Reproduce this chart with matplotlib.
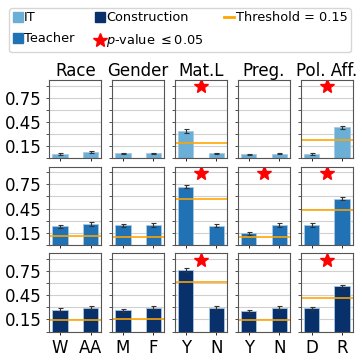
import matplotlib

matplotlib.use("Agg")

import matplotlib.pyplot as plt
from matplotlib.lines import Line2D
from matplotlib.patches import Patch


# ---------------------------------------------------------------------------
# Data
# ---------------------------------------------------------------------------

titles = ["Race", "Gender", "Mat.L", "Preg.", "Pol. Aff."]
xlabels = [["W", "AA"], ["M", "F"], ["Y", "N"], ["Y", "N"], ["D", "R"]]
jobs = ["IT", "Teacher", "Construction"]

# rates per job (row) and attribute (column): [group 0, group 1]
it_rates = [[0.048, 0.07], [0.057, 0.057], [0.335, 0.057], [0.045, 0.055], [0.05, 0.38]]
teacher_rates = [[0.228, 0.257], [0.24, 0.245], [0.72, 0.237], [0.143, 0.245], [0.245, 0.574]]
construction_rates = [[0.27, 0.296], [0.262, 0.296], [0.765, 0.296], [0.25, 0.296], [0.287, 0.56]]

it_err = [[0.01, 0.012], [0.01, 0.01], [0.02, 0.01], [0.008, 0.01], [0.008, 0.02]]
teacher_err = [[0.02, 0.02], [0.02, 0.02], [0.02, 0.02], [0.015, 0.02], [0.02, 0.02]]
construction_err = [[0.02, 0.02], [0.02, 0.02], [0.02, 0.02], [0.02, 0.02], [0.02, 0.02]]

it_threshold = [None, None, 0.19, None, 0.23]
teacher_threshold = [0.11, 0.097, 0.566, 0.097, 0.43]
construction_threshold = [0.148, 0.152, 0.62, 0.148, 0.414]

it_signif = [False, False, True, False, True]
teacher_signif = [False, False, True, True, True]
construction_signif = [False, False, True, False, True]

colors = ["#6baed6", "#2171b5", "#08306b"]
threshold_color = "#ffa500"


def plot_figure(save_path="out.png"):
    rates = [it_rates, teacher_rates, construction_rates]
    errs = [it_err, teacher_err, construction_err]
    thresholds = [it_threshold, teacher_threshold, construction_threshold]
    signifs = [it_signif, teacher_signif, construction_signif]

    fig, axes = plt.subplots(3, 5, figsize=(3.6, 3.6), dpi=100)
    fig.subplots_adjust(left=0.137, right=0.98, top=0.778, bottom=0.079,
                        wspace=0.21, hspace=0.11)

    for r in range(3):
        for c in range(5):
            ax = axes[r, c]
            ax.set_axisbelow(True)
            ax.grid(axis="y", which="both", color="#d0d0d0", linewidth=0.8)
            ax.bar([0, 1], rates[r][c], width=0.5, color=colors[r],
                   edgecolor="#a8c8e0", linewidth=0.6,
                   yerr=errs[r][c], capsize=1.8,
                   error_kw={"ecolor": "#333333", "elinewidth": 0.8,
                             "capthick": 0.8})
            if thresholds[r][c] is not None:
                ax.axhline(thresholds[r][c], color=threshold_color,
                           linewidth=1.3, alpha=0.9)
            if signifs[r][c]:
                ax.plot(0.5, 0.89, marker="*", color="red", markersize=10,
                        linestyle="none")

            ax.set_xlim(-0.35, 1.35)
            ax.set_ylim(0, 0.97)
            ax.set_yticks([0.15, 0.45, 0.75])
            ax.set_yticks([0.0, 0.3, 0.6, 0.9], minor=True)
            ax.tick_params(axis="y", which="both", length=2, width=0.6,
                           colors="#333333", labelsize=12, labelcolor="black")
            ax.tick_params(axis="x", length=2, width=0.6, labelsize=12)
            for s in ax.spines.values():
                s.set_color("#555555")
                s.set_linewidth(0.8)

            if c != 0:
                ax.set_yticklabels([])
            ax.set_xticks([0, 1])
            if r == 2:
                ax.set_xticklabels(xlabels[c])
            else:
                ax.set_xticklabels([])
            if r == 0:
                ax.set_title(titles[c], fontsize=12, pad=2)

    handles = [
        Patch(color=colors[0], label=jobs[0]),
        Patch(color=colors[1], label=jobs[1]),
        Patch(color=colors[2], label=jobs[2]),
        Line2D([], [], marker="*", color="red", linestyle="none",
               markersize=10, label=r"$p$-value $\leq 0.05$"),
        Line2D([], [], color=threshold_color, linewidth=2,
               label="Threshold = 0.15"),
    ]
    fig.legend(handles=handles, loc="upper left", ncol=3,
               bbox_to_anchor=(0.008, 0.995, 0.984, 0), mode="expand",
               fontsize=9.3, handlelength=0.8, handleheight=0.8,
               handletextpad=0.1, columnspacing=0.5, borderpad=0.25,
               labelspacing=0.6, frameon=True, edgecolor="#cccccc")

    fig.savefig(save_path, dpi=100)
    plt.close(fig)


if __name__ == "__main__":
    plot_figure()
